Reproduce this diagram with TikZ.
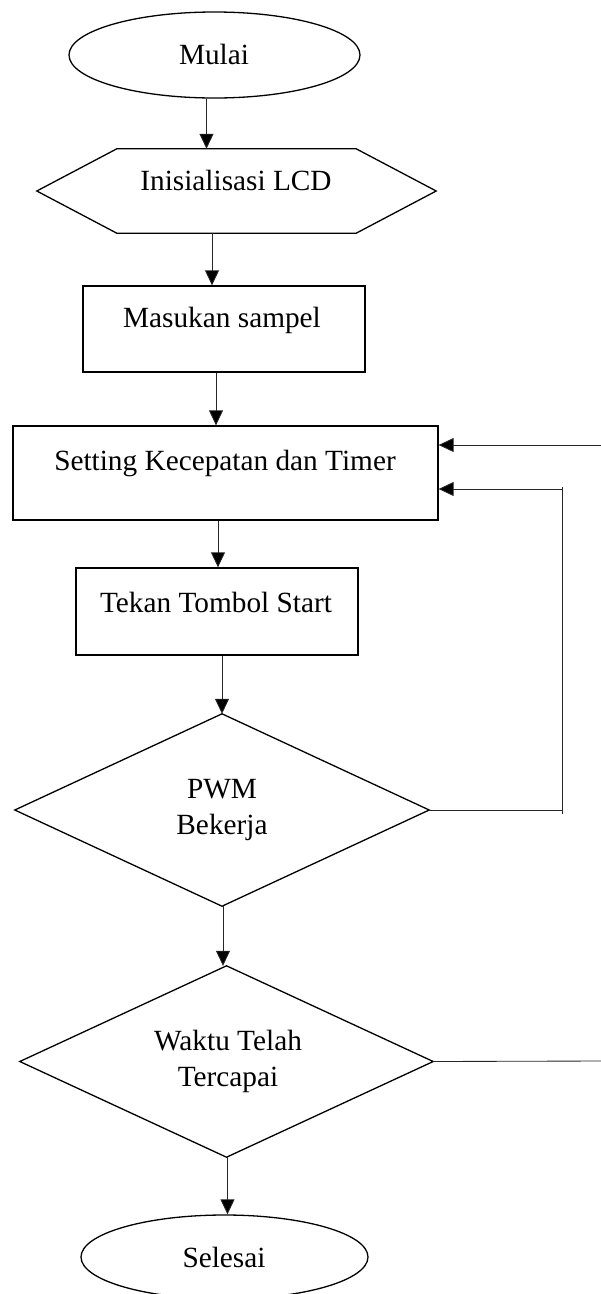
\documentclass[tikz,border=0pt]{standalone}
\usepackage{fontspec}
\setmainfont{Liberation Serif}
\usetikzlibrary{shapes.geometric,arrows.meta}
\begin{document}
\begin{tikzpicture}[x=1pt,y=-1pt,
  shapeline/.style={draw=black,line width=1.3pt},
  box/.style={shapeline,rectangle,inner sep=0pt},
  term/.style={shapeline,ellipse,inner sep=0pt},
  ghost/.style={rectangle,inner sep=0pt},
  txt/.style={inner sep=0pt,align=center,font=\fontsize{29.3}{36}\selectfont},
  arr/.style={line width=0.85pt,draw=black!85,-{Triangle[length=15pt,width=14pt,fill=black]}},
  conn/.style={line width=0.85pt,draw=black!85}]
\useasboundingbox (0,0) rectangle (601,1294);
\fill[white] (0,0) rectangle (601,1294);

% shapes
\node[term, minimum width=291pt, minimum height=86pt] (mulai) at (214.5,55) {};
\node[ghost, minimum width=399pt, minimum height=84pt] (lcd) at (236.5,191) {};
\draw[shapeline] (lcd.west) -- ([xshift=80pt]lcd.north west) -- ([xshift=-80pt]lcd.north east)
  -- (lcd.east) -- ([xshift=-80pt]lcd.south east) -- ([xshift=80pt]lcd.south west) -- cycle;
\node[box, minimum width=282pt, minimum height=86pt] (masukan) at (224,329) {};
\node[box, minimum width=425pt, minimum height=94pt] (setting) at (225.5,473) {};
\node[box, minimum width=282pt, minimum height=87pt] (tekan) at (217,611.5) {};
\node[ghost, minimum width=414pt, minimum height=192pt] (pwm) at (222,810) {};
\draw[shapeline] (pwm.north) -- (pwm.east) -- (pwm.south) -- (pwm.west) -- cycle;
\node[ghost, minimum width=413pt, minimum height=191pt] (waktu) at (226.5,1061.5) {};
\draw[shapeline] (waktu.north) -- (waktu.east) -- (waktu.south) -- (waktu.west) -- cycle;
\node[term, minimum width=287pt, minimum height=84pt] (selesai) at (224.5,1257) {};

% texts
\node[txt] (tmulai) at (214,54) {Mulai};
\node[txt] (tlcd) at (236,180) {Inisialisasi LCD};
\node[txt] (tmasukan) at (222,320) {Masukan sampel};
\node[txt] (tsetting) at (225,463) {Setting Kecepatan dan Timer};
\node[txt] (ttekan) at (216,602) {Tekan Tombol Start};
\node[txt] (tpwm) at (222,810) {PWM\\Bekerja};
\node[txt] (twaktu) at (228,1061) {Waktu Telah\\Tercapai};
\node[txt] (tselesai) at (224,1257) {Selesai};

% connectors
\draw[arr] ([xshift=-8pt]mulai.south) -- ([xshift=-8pt]mulai.south |- lcd.north);
\draw[arr] ([xshift=-12pt]masukan.north |- lcd.south) -- ([xshift=-12pt]masukan.north);
\draw[arr] ([xshift=-8pt]masukan.south) -- ([xshift=-8pt]masukan.south |- setting.north);
\draw[arr] ([xshift=1pt]tekan.north |- setting.south) -- ([xshift=1pt]tekan.north);
\draw[arr] (pwm.north |- tekan.south) -- (pwm.north);
\draw[arr] ([xshift=1pt]pwm.south) -- ([xshift=1pt]pwm.south |- waktu.north);
\draw[arr] ([xshift=1pt]waktu.south) -- ([xshift=1pt]waktu.south |- selesai.north);

\coordinate (cA) at (601,445);
\coordinate (cB) at (562,489);
\coordinate (cC) at (601,1061);
\draw[arr] (cA) -- (setting.east |- cA);
\draw[arr] (pwm.east) -| (cB) -- (setting.east |- cB);
\draw[conn] (cB) -- ++(0,-2);
\draw[conn] (pwm.east -| cB) -- ++(0,4);
\draw[conn] (waktu.east) -- (cC);
\end{tikzpicture}
\end{document}
